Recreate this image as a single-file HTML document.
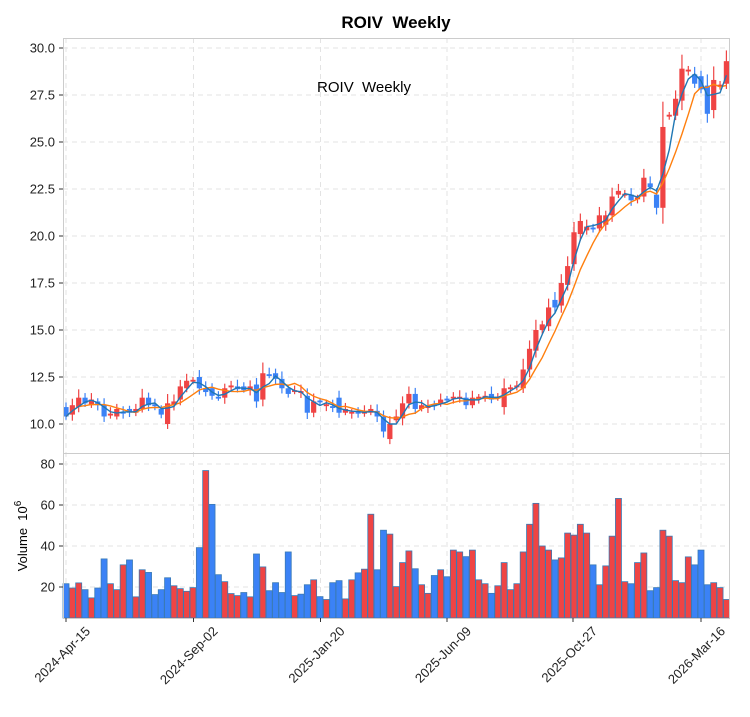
<!DOCTYPE html>
<html><head><meta charset="utf-8"><style>
html,body{margin:0;padding:0;background:#fff;}
svg text{font-family:"Liberation Sans","DejaVu Sans",sans-serif;white-space:pre;}
</style></head><body>
<svg id="s" width="750" height="712" xmlns="http://www.w3.org/2000/svg">
<rect width="750" height="712" fill="#fff"/>
<text x="396" y="28" font-size="17" font-weight="bold" text-anchor="middle">ROIV&#160;&#160;Weekly</text>
<g id="grid"></g>
<g id="cand"></g>
<g id="vol"></g>
<g id="lines"></g>
<rect x="63.5" y="38.5" width="666" height="415" fill="none" stroke="#ccc" stroke-width="1"/>
<rect x="63.5" y="453.5" width="666" height="165" fill="none" stroke="#ccc" stroke-width="1"/>
<text x="364" y="92" font-size="15" text-anchor="middle">ROIV&#160;&#160;Weekly</text>
<g id="labels" font-size="13" fill="#222"></g>
<text transform="translate(27,536) rotate(-90)" font-size="13" text-anchor="middle">Volume&#160;&#160;10<tspan dy="-6" font-size="10">6</tspan></text>
</svg>
<script>
const B=[[10.4,10.9,'b'],[10.5,11.0,'r'],[10.9,11.4,'r'],[11.1,11.4,'b'],[11.0,11.3,'r'],[11.0,11.2,'b'],[10.4,11.0,'b'],[10.45,10.55,'r'],[10.4,10.8,'r'],[10.55,10.65,'b'],
[10.6,10.8,'b'],[10.6,10.8,'r'],[10.8,11.4,'r'],[11.0,11.4,'b'],[10.95,11.05,'b'],[10.5,10.8,'b'],[10.0,11.1,'r'],[11.0,11.2,'r'],[11.3,12.0,'r'],[11.9,12.3,'r'],
[12.25,12.35,'r'],[11.9,12.5,'b'],[11.7,11.9,'b'],[11.5,11.9,'b'],[11.35,11.45,'b'],[11.4,11.9,'r'],[11.95,12.05,'r'],[11.85,12.0,'b'],[11.8,12.0,'b'],[11.8,12.0,'r'],
[11.2,12.1,'b'],[11.3,12.7,'r'],[12.55,12.65,'b'],[12.4,12.7,'b'],[11.9,12.4,'b'],[11.6,11.9,'b'],[11.7,11.8,'r'],[11.65,11.75,'r'],[10.6,11.5,'b'],[10.6,11.2,'r'],
[11.15,11.25,'b'],[10.95,11.05,'r'],[10.85,10.95,'b'],[10.6,11.4,'b'],[10.6,10.8,'r'],[10.55,10.65,'r'],[10.55,10.65,'b'],[10.55,10.65,'r'],[10.6,10.8,'r'],[10.4,10.7,'b'],
[9.6,10.4,'b'],[9.2,10.0,'r'],[10.2,10.4,'r'],[10.3,11.1,'r'],[11.1,11.6,'r'],[10.8,11.6,'b'],[10.8,11.0,'r'],[10.85,10.95,'r'],[10.95,11.05,'b'],[11.1,11.3,'r'],
[11.25,11.35,'b'],[11.35,11.45,'r'],[11.35,11.45,'r'],[11.0,11.4,'b'],[11.0,11.4,'r'],[11.35,11.45,'r'],[11.4,11.5,'r'],[11.3,11.6,'b'],[11.35,11.45,'r'],[10.9,11.9,'r'],
[11.85,11.95,'r'],[11.95,12.05,'r'],[11.9,12.9,'r'],[12.9,14.0,'r'],[13.9,15.0,'r'],[15.0,15.3,'r'],[15.2,16.2,'r'],[16.2,16.6,'b'],[16.3,17.5,'r'],[17.4,18.4,'r'],
[18.5,20.2,'r'],[20.1,20.8,'r'],[20.3,20.5,'r'],[20.35,20.45,'b'],[20.4,21.1,'r'],[20.6,21.1,'r'],[21.1,22.1,'r'],[22.2,22.4,'r'],[22.15,22.25,'r'],[21.9,22.2,'b'],
[21.95,22.05,'r'],[22.1,23.1,'r'],[22.6,22.8,'b'],[21.5,22.2,'b'],[21.5,25.8,'r'],[26.35,26.45,'r'],[26.4,27.3,'r'],[27.2,28.9,'r'],[28.75,28.85,'r'],[28.1,28.6,'b'],
[27.8,28.5,'b'],[26.5,28.0,'b'],[26.7,28.3,'r'],[27.95,28.05,'r'],[28.1,29.3,'r']];
const V=[[21.6,'b'],[19.5,'r'],[22,'r'],[18.7,'b'],[14.7,'r'],[19.5,'b'],[33.7,'b'],[21.6,'r'],[18.7,'r'],[30.8,'r'],[33.2,'b'],[15.2,'r'],[28.4,'r'],[27.1,'b'],[16.3,'b'],[18.7,'b'],[24.5,'b'],[20.6,'r'],[19.2,'r'],[17.9,'r'],
[19.7,'r'],[39.2,'b'],[76.8,'r'],[60.3,'b'],[26,'b'],[22.6,'r'],[16.8,'r'],[15.8,'r'],[17.3,'b'],[15.2,'r'],[36.1,'b'],[29.8,'r'],[18.2,'b'],[22.1,'b'],[17.3,'b'],[37.1,'b'],[15.8,'r'],[16.5,'b'],[21.1,'b'],[23.5,'r'],
[15.3,'b'],[13.9,'r'],[22.1,'b'],[23.1,'b'],[14.2,'r'],[23.5,'r'],[26.9,'b'],[28.7,'r'],[55.5,'r'],[28.4,'b'],[47.7,'b'],[45.8,'r'],[20.2,'r'],[31.9,'r'],[37.6,'r'],[28.9,'b'],[21.1,'r'],[16.9,'r'],[25.6,'b'],[28.4,'r'],
[25,'b'],[38,'r'],[37.1,'r'],[34.8,'b'],[38,'r'],[23.5,'r'],[21.6,'r'],[16.9,'b'],[20.6,'r'],[31.9,'r'],[18.7,'r'],[21.6,'r'],[37.1,'r'],[50.6,'r'],[60.8,'r'],[40,'r'],[38,'r'],[33.2,'b'],[34.2,'r'],[46.3,'r'],
[45.3,'r'],[50.6,'r'],[46.3,'r'],[30.8,'b'],[21.1,'r'],[30.3,'r'],[44.8,'r'],[63.2,'r'],[22.6,'r'],[21.6,'b'],[31.9,'r'],[36.6,'r'],[18.2,'b'],[19.7,'b'],[47.7,'r'],[44.8,'r'],[23.1,'r'],[22.1,'r'],[34.7,'r'],[30.8,'b'],
[38,'b'],[21.1,'b'],[22.1,'r'],[19.7,'r'],[13.9,'r']];
const NS="http://www.w3.org/2000/svg";
function el(p,t,a){const e=document.createElementNS(NS,t);for(const k in a)e.setAttribute(k,a[k]);document.getElementById(p).appendChild(e);return e;}
const X=i=>66+i*6.35, PY=p=>424-(p-10)*18.8, VY=v=>587-(v-20)*2.05;
const RED='#ef4444',BLUE='#3b82f6';
[10,12.5,15,17.5,20,22.5,25,27.5,30].forEach(p=>{el('grid','line',{x1:63,x2:729,y1:PY(p),y2:PY(p),stroke:'#e3e3e3','stroke-dasharray':'5,4'});
 el('labels','line',{x1:59,x2:63,y1:PY(p),y2:PY(p),stroke:'#333'});
 const t=el('labels','text',{x:55,y:PY(p)+4.5,'text-anchor':'end'});t.textContent=p.toFixed(1);});
[20,40,60,80].forEach(v=>{el('grid','line',{x1:63,x2:729,y1:VY(v),y2:VY(v),stroke:'#e3e3e3','stroke-dasharray':'5,4'});
 el('labels','line',{x1:59,x2:63,y1:VY(v),y2:VY(v),stroke:'#333'});
 const t=el('labels','text',{x:55,y:VY(v)+4.5,'text-anchor':'end'});t.textContent=v;});
const ticks=[[66,'2024-Apr-15'],[193.5,'2024-Sep-02'],[320.5,'2025-Jan-20'],[447,'2025-Jun-09'],[573,'2025-Oct-27'],[701,'2026-Mar-16']];
ticks.forEach(([x,l])=>{el('grid','line',{x1:x,x2:x,y1:38,y2:618,stroke:'#e3e3e3','stroke-dasharray':'5,4'});
 el('labels','line',{x1:x,x2:x,y1:618,y2:622,stroke:'#333'});
 const t=el('labels','text',{'text-anchor':'end',transform:`translate(${x+25},${632}) rotate(-45)`});t.textContent=l;});
const C=[];
B.forEach((b,i)=>{const [lo,hi,c]=b;const col=c=='r'?RED:BLUE;const x=X(i);
 const span=Math.max(hi-lo,0.1);const wh=hi+0.12+span*0.25+((i*7)%5)*0.05,wl=lo-0.1-span*0.15-((i*3)%4)*0.05;
 el('cand','line',{x1:x,x2:x,y1:PY(wh),y2:PY(wl),stroke:col,'stroke-width':1.2});
 const y1=PY(hi),y2=PY(lo);el('cand','rect',{x:x-2.6,y:y1,width:5.2,height:Math.max(y2-y1,1.5),fill:col});
 C.push(c=='r'?hi:lo);});
V.forEach((v,i)=>{const x=X(i);el('vol','rect',{x:x-3,y:VY(v[0]),width:6,height:618-VY(v[0]),fill:v[1]=='r'?RED:BLUE,stroke:'#3a7ab5','stroke-width':0.8});});
function ma(n){return C.map((_,i)=>{const s=C.slice(Math.max(0,i-n+1),i+1);return s.reduce((a,b)=>a+b,0)/s.length;});}
function path(arr,col,w){el('lines','polyline',{points:arr.map((v,i)=>X(i)+','+PY(v)).join(' '),fill:'none',stroke:col,'stroke-width':w});}
path(ma(6),'#ff7f0e',1.4);
path(ma(3),'#1f77b4',1.4);
</script>
</body></html>
